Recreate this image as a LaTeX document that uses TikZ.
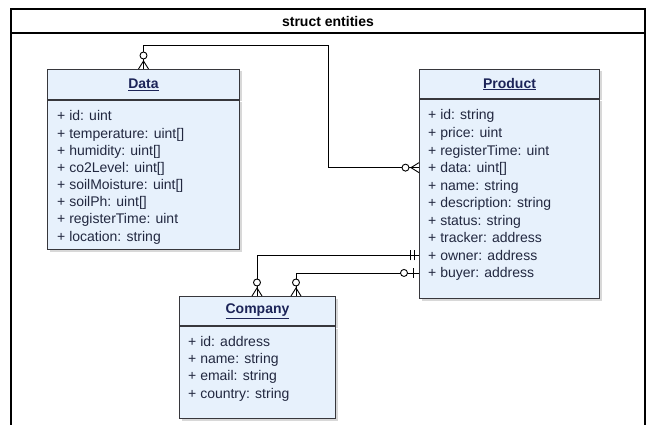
\documentclass[tikz,border=0pt]{standalone}
\usepackage{fontspec}
\setmainfont{Liberation Sans}
\usetikzlibrary{calc,shadows}
\definecolor{boxfill}{RGB}{231,241,252}
\definecolor{boxline}{RGB}{55,55,60}
\definecolor{txt}{RGB}{34,40,64}
\definecolor{ttl}{RGB}{28,36,88}
\tikzset{
  frameline/.style={draw=black, line width=1.2pt},
  hdr/.style={draw=boxline, fill=boxfill, line width=1pt, anchor=north west, inner sep=0pt,
    font=\fontsize{14}{16}\selectfont\bfseries, text=ttl,
    drop shadow={shadow xshift=2pt, shadow yshift=-2pt, fill=black!30}},
  bdy/.style={draw=boxline, fill=boxfill, line width=1pt, anchor=north west, inner sep=0pt,
    drop shadow={shadow xshift=2pt, shadow yshift=-2pt, fill=black!30}},
  row/.style={anchor=base west, inner sep=0pt, text height=10pt, text depth=0pt,
    font=\fontsize{14}{16}\selectfont, text=txt},
  conn/.style={draw=black, line width=0.9pt},
  pics/zeromany/.style={code={
    \draw[conn] (-5pt,0pt) -- (0pt,8pt) -- (5pt,0pt);
    \draw[conn] (0pt,0pt) -- (0pt,10pt);
    \draw[conn, fill=white] (0pt,13.5pt) circle[radius=3.5pt];
  }},
  pics/onlyone/.style={code={
    \draw[conn] (-5pt,5pt) -- (5pt,5pt);
    \draw[conn] (-5pt,9pt) -- (5pt,9pt);
  }},
  pics/zeroone/.style={code={
    \draw[conn] (-5pt,6pt) -- (5pt,6pt);
    \draw[conn, fill=white] (0pt,15pt) circle[radius=3.5pt];
  }},
}
\begin{document}
\begin{tikzpicture}[x=1pt, y=-1pt]
\useasboundingbox (0,0) rectangle (651,425);
\clip (0,0) rectangle (651,425);
\fill[white] (0,0) rectangle (651,425);

% outer frame
\draw[frameline] (11,440) -- (11,9) -- (645,9) -- (645,440);
\draw[frameline] (11,33) -- (645,33);
\node[font=\fontsize{14}{16}\selectfont\bfseries] (frametitle) at (328,21) {struct entities};

% Data
\node[hdr, minimum width=192pt, minimum height=30pt] (datah) at (47,69) {\underline{Data}};
\node[bdy, minimum width=192pt, minimum height=149pt] (datab) at (datah.south west) {};
\foreach \t [count=\i] in {{+ id: uint},{+ temperature: uint[]},{+ humidity: uint[]},{+ co2Level: uint[]},{+ soilMoisture: uint[]},{+ soilPh: uint[]},{+ registerTime: uint},{+ location: string}}
  \node[row] (dr\i) at ($(datab.north west)+(10,{21+(\i-1)*17.15})$) {\t};

% Product
\node[hdr, minimum width=180pt, minimum height=29pt] (prodh) at (419,69) {\underline{Product}};
\node[bdy, minimum width=180pt, minimum height=199pt] (prodb) at (prodh.south west) {};
\foreach \t [count=\i] in {{+ id: string},{+ price: uint},{+ registerTime: uint},{+ data: uint[]},{+ name: string},{+ description: string},{+ status: string},{+ tracker: address},{+ owner: address},{+ buyer: address}}
  \node[row] (pr\i) at ($(prodb.north west)+(9,{21+(\i-1)*17.55})$) {\t};

% Company
\node[hdr, minimum width=156pt, minimum height=29pt] (comph) at (179,296) {\underline{Company}};
\node[bdy, minimum width=156pt, minimum height=92pt] (compb) at (comph.south west) {};
\foreach \t [count=\i] in {{+ id: address},{+ name: string},{+ email: string},{+ country: string}}
  \node[row] (cr\i) at ($(compb.north west)+(9,{20+(\i-1)*17.35})$) {\t};

% connectors
\coordinate (bendA) at (328,45);
\coordinate (compA) at ($(comph.north west)+(78,0)$);
\coordinate (compB) at ($(comph.north west)+(117,0)$);
\draw[conn] (datah.north) |- (bendA) |- (prodb.west |- pr4.west);
\draw[conn] (compA) |- (prodb.west |- pr9.west);
\draw[conn] (compB) |- (prodb.west |- pr10.west);

% end markers
\pic at (datah.north) {zeromany};
\pic[rotate=90] at (prodb.west |- pr4.west) {zeromany};
\pic at (compA) {zeromany};
\pic at (compB) {zeromany};
\pic[rotate=90] at (prodb.west |- pr9.west) {onlyone};
\pic[rotate=90] at (prodb.west |- pr10.west) {zeroone};
\end{tikzpicture}
\end{document}
